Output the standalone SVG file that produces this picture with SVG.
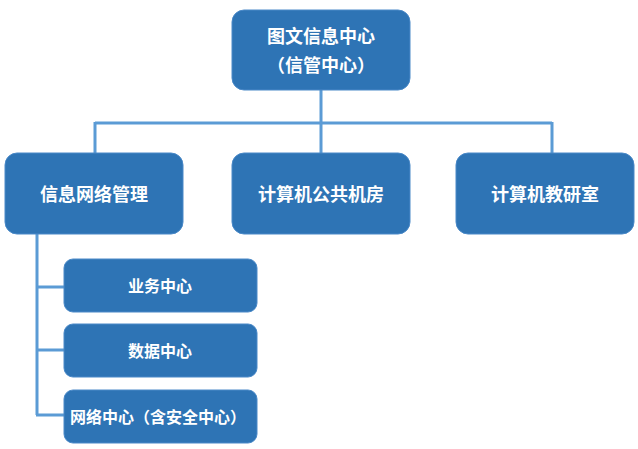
<svg xmlns="http://www.w3.org/2000/svg" width="638" height="449" viewBox="0 0 638 449">
<style>
.box{fill:#2E74B5;stroke:#4A89C8;stroke-width:1}
.t{fill:#fff;font-family:"Noto Sans CJK SC","Noto Sans",sans-serif;font-weight:bold;text-anchor:middle}
.big{font-size:18px}
.sm{font-size:16px}
.c{fill:none;stroke:#5B9BD5;stroke-width:3}
</style>
<rect width="638" height="449" fill="#fff"/>
<g id="connectors">
<path class="c" d="M321 90V123M95 123H552M95 122V153M321 123V153M552 122V153"/>
<path class="c" d="M37 234V415M36 287H64M36 350H64M36 415H64"/>
</g>
<g id="n1"><rect class="box" x="232" y="10" width="178" height="80" rx="12"/>
<text class="t big" x="321" y="43">图文信息中心</text><text class="t big" x="321" y="72">（信管中心）</text></g>
<g id="n2"><rect class="box" x="5" y="153" width="178" height="81" rx="12"/>
<text class="t big" x="94" y="201">信息网络管理</text></g>
<g id="n3"><rect class="box" x="232" y="153" width="178" height="81" rx="12"/>
<text class="t big" x="321" y="201">计算机公共机房</text></g>
<g id="n4"><rect class="box" x="456" y="153" width="178" height="81" rx="12"/>
<text class="t big" x="545" y="201">计算机教研室</text></g>
<g id="n5"><rect class="box" x="64" y="259" width="193" height="53" rx="9"/>
<text class="t sm" x="160" y="292">业务中心</text></g>
<g id="n6"><rect class="box" x="64" y="324" width="193" height="53" rx="9"/>
<text class="t sm" x="160" y="357">数据中心</text></g>
<g id="n7"><rect class="box" x="64" y="390" width="193" height="53" rx="9"/>
<text class="t sm" x="158" y="423">网络中心（含安全中心）</text></g>
</svg>
